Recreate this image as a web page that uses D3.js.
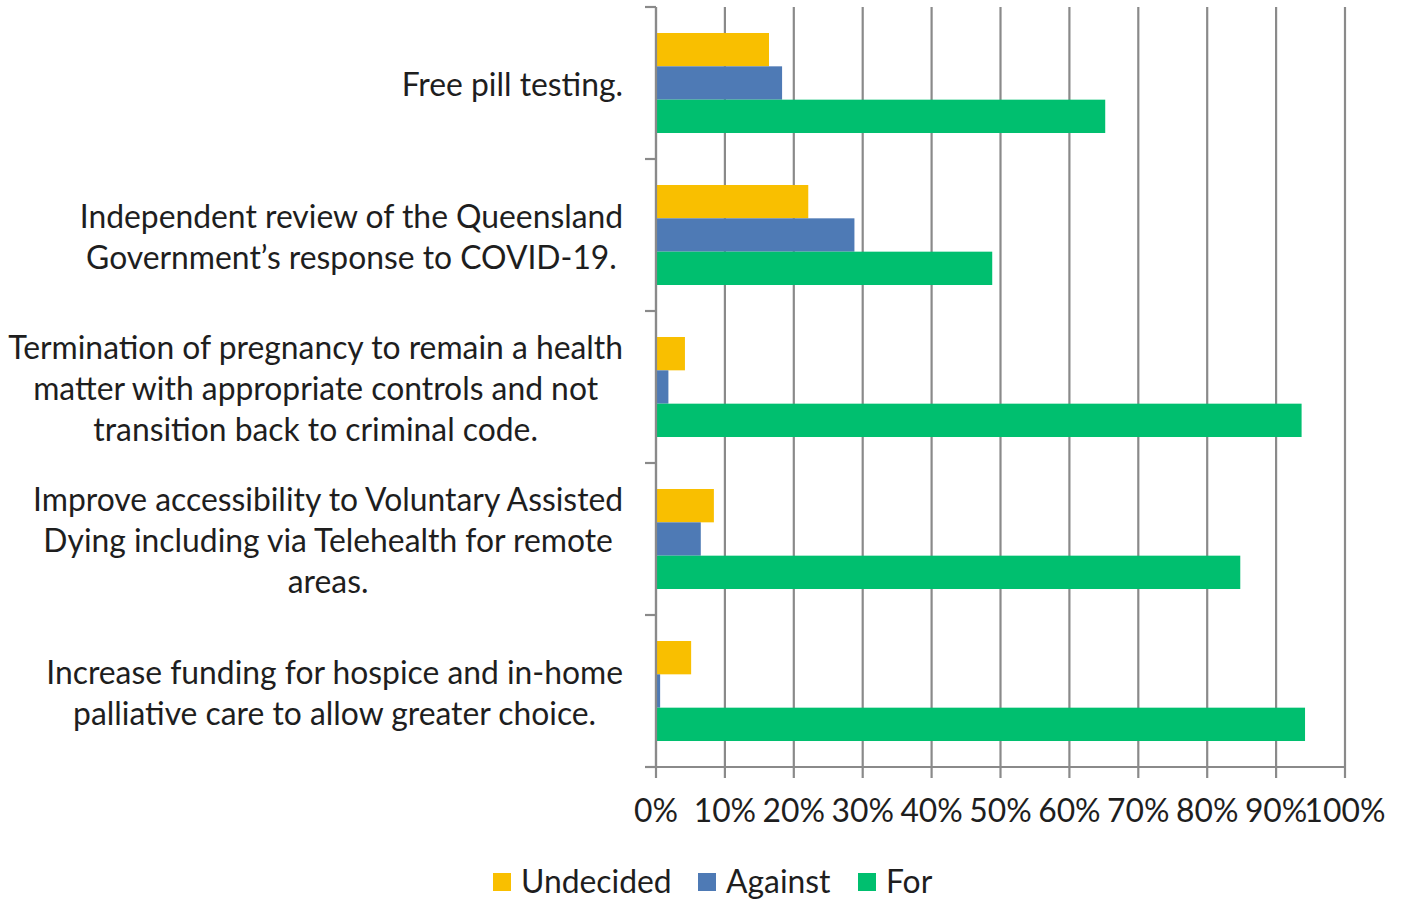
<!DOCTYPE html>
<html>
<head>
<meta charset="utf-8">
<script src="https://cdn.jsdelivr.net/npm/d3@7"></script>
<style>
  html, body { margin: 0; padding: 0; background: #fff; }
  svg { display: block; }
  text { font-family: "Lato", "Open Sans", sans-serif; fill: #1e1e1e; }
</style>
</head>
<body>
<svg id="chart" width="1402" height="901"></svg>
<script>
// ---- data ----
const categories = [
  "Free pill testing.",
  "Independent review of the Queensland\nGovernment\u2019s response to COVID-19.",
  "Termination of pregnancy to remain a health\nmatter with appropriate controls and not\ntransition back to criminal code.",
  "Improve accessibility to Voluntary Assisted\nDying including via Telehealth for remote\nareas.",
  "Increase funding for hospice and in-home\npalliative care to allow greater choice."
];
const seriesNames = ["Undecided", "Against", "For"];
const undecided = [16.4, 22.1, 4.2, 8.4, 5.1];
const against   = [18.3, 28.8, 1.8, 6.5, 0.6];
const forVals   = [65.2, 48.8, 93.7, 84.8, 94.2];
const tickValues = [0, 10, 20, 30, 40, 50, 60, 70, 80, 90, 100];
const tickLabels = ["0%", "10%", "20%", "30%", "40%", "50%", "60%", "70%", "80%", "90%", "100%"];

const colors = { Undecided: "#F9BF00", Against: "#4E7AB5", For: "#00BF6F" };
const seriesValues = { Undecided: undecided, Against: against, For: forVals };

// ---- layout ----
const svg = d3.select("#chart");
const plotLeft = 656, plotRight = 1345, plotTop = 7, plotBottom = 767;
const gridColor = "#8a8a8a";

const x = d3.scaleLinear().domain([0, 100]).range([plotLeft, plotRight]);
const y = d3.scaleBand().domain(d3.range(categories.length)).range([plotTop, plotBottom])
  .paddingInner(0.342).paddingOuter(0.171);
const yInner = d3.scaleBand().domain(seriesNames).range([0, y.bandwidth()]);

// font size: fit the longest label line to the reference width
const probe = svg.append("text").attr("font-size", 28).text("Termination of pregnancy to remain a health");
const probeLen = probe.node().getComputedTextLength();
probe.remove();
const fs = 28 * 615 / probeLen;

// gridlines
svg.append("g").selectAll("line").data(tickValues).join("line")
  .attr("x1", d => x(d)).attr("x2", d => x(d))
  .attr("y1", plotTop).attr("y2", plotBottom + 11)
  .attr("stroke", gridColor).attr("stroke-width", 2.2);

// bars
const rows = categories.map((c, i) => ({ i, vals: seriesNames.map(s => ({ s, v: seriesValues[s][i] })) }));
const g = svg.append("g");
g.selectAll("g").data(rows).join("g")
  .attr("transform", d => `translate(0,${y(d.i)})`)
  .selectAll("rect").data(d => d.vals).join("rect")
  .attr("x", x(0)).attr("y", d => yInner(d.s))
  .attr("width", d => x(d.v) - x(0)).attr("height", yInner.bandwidth())
  .attr("fill", d => colors[d.s]);

// vertical axis with category ticks
const boundaries = d3.range(categories.length + 1).map(i => plotTop + i * y.step());
svg.append("line").attr("x1", plotLeft).attr("x2", plotLeft).attr("y1", plotTop).attr("y2", plotBottom)
  .attr("stroke", gridColor).attr("stroke-width", 2.2);
svg.append("g").selectAll("line").data(boundaries).join("line")
  .attr("x1", plotLeft - 11).attr("x2", plotLeft).attr("y1", d => d).attr("y2", d => d)
  .attr("stroke", gridColor).attr("stroke-width", 2.2);
// horizontal axis line
svg.append("line").attr("x1", plotLeft).attr("x2", plotRight).attr("y1", plotBottom).attr("y2", plotBottom)
  .attr("stroke", gridColor).attr("stroke-width", 2.2);

// x tick labels
svg.append("g").selectAll("text").data(tickValues).join("text")
  .attr("x", d => x(d)).attr("y", 822)
  .attr("text-anchor", "middle").attr("font-size", fs)
  .text((d, i) => tickLabels[i]);

// category labels (centered block, right edge at 623)
const lineH = 41;
categories.forEach((c, i) => {
  const lines = c.split("\n");
  const t = svg.append("text").attr("font-size", fs).attr("text-anchor", "middle");
  const spans = lines.map((l, k) => t.append("tspan").text(l));
  const maxW = d3.max(spans, s => s.node().getComputedTextLength());
  const cx = 623 - maxW / 2;
  const cy = y(i) + y.bandwidth() / 2;
  const y0 = cy - (lines.length - 1) * lineH / 2 + fs * 0.35 + 2;
  spans.forEach((s, k) => s.attr("x", cx).attr("y", y0 + k * lineH));
});

// legend
const legendItems = [
  { s: "Undecided", x: 493 },
  { s: "Against", x: 698 },
  { s: "For", x: 858 }
];
const lg = svg.append("g");
legendItems.forEach(it => {
  lg.append("rect").attr("x", it.x).attr("y", 873).attr("width", 18).attr("height", 18)
    .attr("fill", colors[it.s]);
  lg.append("text").attr("x", it.x + 28).attr("y", 893).attr("font-size", fs).text(it.s);
});
</script>
</body>
</html>
